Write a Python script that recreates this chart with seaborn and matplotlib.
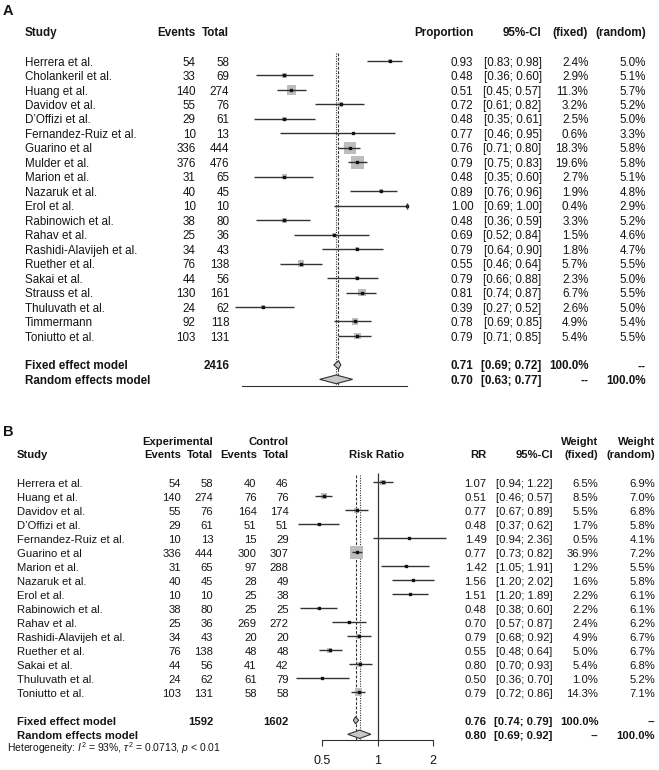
import numpy as np
import pandas as pd
import matplotlib
matplotlib.use("Agg")
import matplotlib.pyplot as plt
from matplotlib.ticker import NullLocator, FixedLocator, FixedFormatter
import seaborn as sns

# ---------------- data: panel A (proportions) ----------------
studies_a = ["Herrera et al.", "Cholankeril et al.", "Huang et al.", "Davidov et al.",
             "D\u2019Offizi et al.", "Fernandez-Ruiz et al.", "Guarino et al", "Mulder et al.",
             "Marion et al.", "Nazaruk et al.", "Erol et al.", "Rabinowich et al.",
             "Rahav et al.", "Rashidi-Alavijeh et al.", "Ruether et al.", "Sakai et al.",
             "Strauss et al.", "Thuluvath et al.", "Timmermann", "Toniutto et al."]
events_a = [54, 33, 140, 55, 29, 10, 336, 376, 31, 40, 10, 38, 25, 34, 76, 44, 130, 24, 92, 103]
total_a = [58, 69, 274, 76, 61, 13, 444, 476, 65, 45, 10, 80, 36, 43, 138, 56, 161, 62, 118, 131]
prop_a = [0.93, 0.48, 0.51, 0.72, 0.48, 0.77, 0.76, 0.79, 0.48, 0.89, 1.00, 0.48, 0.69, 0.79,
          0.55, 0.79, 0.81, 0.39, 0.78, 0.79]
lo_a = [0.83, 0.36, 0.45, 0.61, 0.35, 0.46, 0.71, 0.75, 0.35, 0.76, 0.69, 0.36, 0.52, 0.64,
        0.46, 0.66, 0.74, 0.27, 0.69, 0.71]
hi_a = [0.98, 0.60, 0.57, 0.82, 0.61, 0.95, 0.80, 0.83, 0.60, 0.96, 1.00, 0.59, 0.84, 0.90,
        0.64, 0.88, 0.87, 0.52, 0.85, 0.85]
wfix_a = [2.4, 2.9, 11.3, 3.2, 2.5, 0.6, 18.3, 19.6, 2.7, 1.9, 0.4, 3.3, 1.5, 1.8, 5.7, 2.3,
          6.7, 2.6, 4.9, 5.4]
wran_a = [5.0, 5.1, 5.7, 5.2, 5.0, 3.3, 5.8, 5.8, 5.1, 4.8, 2.9, 5.2, 4.6, 4.7, 5.5, 5.0,
          5.5, 5.0, 5.4, 5.5]
pooled_total_a = 2416
fixed_a = (0.71, 0.69, 0.72)
random_a = (0.70, 0.63, 0.77)

# ---------------- data: panel B (risk ratios) ----------------
studies_b = ["Herrera et al.", "Huang et al.", "Davidov et al.", "D\u2019Offizi et al.",
             "Fernandez-Ruiz et al.", "Guarino et al", "Marion et al.", "Nazaruk et al.",
             "Erol et al.", "Rabinowich et al.", "Rahav et al.", "Rashidi-Alavijeh et al.",
             "Ruether et al.", "Sakai et al.", "Thuluvath et al.", "Toniutto et al."]
exp_events_b = [54, 140, 55, 29, 10, 336, 31, 40, 10, 38, 25, 34, 76, 44, 24, 103]
exp_total_b = [58, 274, 76, 61, 13, 444, 65, 45, 10, 80, 36, 43, 138, 56, 62, 131]
ctl_events_b = [40, 76, 164, 51, 15, 300, 97, 28, 25, 25, 269, 20, 48, 41, 61, 58]
ctl_total_b = [46, 76, 174, 51, 29, 307, 288, 49, 38, 25, 272, 20, 48, 42, 79, 58]
rr_b = [1.07, 0.51, 0.77, 0.48, 1.49, 0.77, 1.42, 1.56, 1.51, 0.48, 0.70, 0.79, 0.55, 0.80,
        0.50, 0.79]
lo_b = [0.94, 0.46, 0.67, 0.37, 0.94, 0.73, 1.05, 1.20, 1.20, 0.38, 0.57, 0.68, 0.48, 0.70,
        0.36, 0.72]
hi_b = [1.22, 0.57, 0.89, 0.62, 2.36, 0.82, 1.91, 2.02, 1.89, 0.60, 0.87, 0.92, 0.64, 0.93,
        0.70, 0.86]
wfix_b = [6.5, 8.5, 5.5, 1.7, 0.5, 36.9, 1.2, 1.6, 2.2, 2.2, 2.4, 4.9, 5.0, 5.4, 1.0, 14.3]
wran_b = [6.9, 7.0, 6.8, 5.8, 4.1, 7.2, 5.5, 5.8, 6.1, 6.1, 6.2, 6.7, 6.7, 6.8, 5.2, 7.1]
pooled_exp_total_b = 1592
pooled_ctl_total_b = 1602
fixed_b = (0.76, 0.74, 0.79)
random_b = (0.80, 0.69, 0.92)
ticks_b = [0.5, 1, 2]
tick_labels_b = ["0.5", "1", "2"]
heterogeneity_b = r"Heterogeneity: $I^2$ = 93%, $\tau^2$ = 0.0713, $p$ < 0.01"

# ---------------- style ----------------
sns.set_theme(style="white")
plt.rcParams["font.family"] = ["Liberation Sans", "DejaVu Sans"]
plt.rcParams["mathtext.fontset"] = "custom"
plt.rcParams["mathtext.rm"] = "Liberation Sans"
plt.rcParams["mathtext.it"] = "Liberation Sans:italic"
plt.rcParams["mathtext.bf"] = "Liberation Sans:bold"

TXT = "#151515"
LN = "#333333"
SQ = "#bdbdbd"
DIA = "#c8c8c8"

W, H = 659, 770
fig = plt.figure(figsize=(W / 100, H / 100), dpi=100)
bg = fig.add_axes([0, 0, 1, 1])
bg.set_xlim(0, W)
bg.set_ylim(H, 0)
bg.axis("off")


def px_axes(x0, x1, y0, y1):
    return fig.add_axes([x0 / W, 1 - y1 / H, (x1 - x0) / W, (y1 - y0) / H])


def txt(x, y, s, ha="left", bold=False, size=8.4):
    bg.text(x, y, s, ha=ha, va="baseline", fontsize=size, color=TXT,
            fontweight="bold" if bold else "normal")


def diamond(ax, est, lo, hi, row, h):
    ax.fill([lo, est, hi, est, lo], [row, row - h, row, row + h, row],
            facecolor=DIA, edgecolor=LN, lw=0.8, zorder=5)


def forest(ax, est, lo, hi, w, smax):
    n = len(est)
    rows = np.arange(n)
    df = pd.DataFrame({"est": est, "row": rows, "w": w})
    sns.scatterplot(data=df, x="est", y="row", size="w", sizes=(0, smax),
                    size_norm=(0, max(w)), marker="s", color=SQ, linewidth=0,
                    legend=False, ax=ax, zorder=2)
    ax.hlines(rows, lo, hi, color=LN, lw=1.0, zorder=3)
    ax.plot(est, rows, "s", ms=2.0, color="#111111", zorder=4)
    ax.set_xlabel("")
    ax.set_ylabel("")
    ax.set_yticks([])
    for s in ["top", "left", "right"]:
        ax.spines[s].set_visible(False)
    ax.spines["bottom"].set_color(LN)
    ax.spines["bottom"].set_linewidth(0.8)
    ax.patch.set_alpha(0)
    return rows


# ================= Panel A =================
FS_A = 8.4
rowA = lambda i: 61 + 14.47 * i
txt(3, 15, "A", bold=True, size=10.5)
hb = 36
txt(25, hb, "Study", bold=True, size=FS_A)
txt(195.7, hb, "Events", ha="right", bold=True, size=FS_A)
txt(229.3, hb, "Total", ha="right", bold=True, size=FS_A)
txt(473.3, hb, "Proportion", ha="right", bold=True, size=FS_A)
txt(541.7, hb, "95%-CI", ha="right", bold=True, size=FS_A)
txt(587.5, hb, "(fixed)", ha="right", bold=True, size=FS_A)
txt(646, hb, "(random)", ha="right", bold=True, size=FS_A)
for i, name in enumerate(studies_a):
    yb = rowA(i) + 4.6
    txt(25, yb, name, size=FS_A)
    txt(195.7, yb, f"{events_a[i]}", ha="right", size=FS_A)
    txt(229.3, yb, f"{total_a[i]}", ha="right", size=FS_A)
    txt(473.3, yb, f"{prop_a[i]:.2f}", ha="right", size=FS_A)
    txt(541.7, yb, f"[{lo_a[i]:.2f}; {hi_a[i]:.2f}]", ha="right", size=FS_A)
    txt(588.3, yb, f"{wfix_a[i]:.1f}%", ha="right", size=FS_A)
    txt(646, yb, f"{wran_a[i]:.1f}%", ha="right", size=FS_A)
yb = rowA(21) + 4.6
txt(25, yb, "Fixed effect model", bold=True, size=FS_A)
txt(229.3, yb, f"{pooled_total_a}", ha="right", bold=True, size=FS_A)
txt(473.3, yb, f"{fixed_a[0]:.2f}", ha="right", bold=True, size=FS_A)
txt(541.7, yb, f"[{fixed_a[1]:.2f}; {fixed_a[2]:.2f}]", ha="right", bold=True, size=FS_A)
txt(588.3, yb, "100.0%", ha="right", bold=True, size=FS_A)
txt(646, yb, "--", ha="right", bold=True, size=FS_A)
yb = rowA(22) + 4.6
txt(25, yb, "Random effects model", bold=True, size=FS_A)
txt(473.3, yb, f"{random_a[0]:.2f}", ha="right", bold=True, size=FS_A)
txt(541.7, yb, f"[{random_a[1]:.2f}; {random_a[2]:.2f}]", ha="right", bold=True, size=FS_A)
txt(588.3, yb, "--", ha="right", bold=True, size=FS_A)
txt(646, yb, "100.0%", ha="right", bold=True, size=FS_A)

# forest axes A (linear)
axA = px_axes(220, 420, 45, 386)
scaleA = 235.2
axA_rows = forest(axA, prop_a, lo_a, hi_a, wfix_a, 80)
ybotA = (386 - 61) / 14.47
ytopA = (45 - 61) / 14.47
ends = [(h, r) for h, r in zip(hi_a, axA_rows) if h >= 1.0]
if ends:
    axA.plot([e[0] for e in ends], [e[1] for e in ends], "|", ms=5, color=LN, mew=1.0, zorder=4)
axA.vlines(fixed_a[0], -0.55, ybotA, colors=LN, linestyles=(0, (2.5, 1.5)), lw=0.8, zorder=1)
axA.vlines(random_a[0], -0.55, ybotA, colors=LN, linestyles=(0, (1, 1.2)), lw=0.8, zorder=1)
diamond(axA, *fixed_a, 21, 0.28)
diamond(axA, *random_a, 22, 0.3)
axA.set_xlim(0.27 - 15 / scaleA, 0.27 + 185 / scaleA)
axA.set_ylim(ybotA, ytopA)
axA.set_xticks([])
axA.spines["bottom"].set_bounds(0.3, 1.0)

# ================= Panel B =================
FS_B = 8.1
rowB = lambda i: 482.3 + 14.0 * i
txt(3, 436, "B", bold=True, size=10.5)
h1, h2 = 445, 458.3
txt(213.3, h1, "Experimental", ha="right", bold=True, size=FS_B)
txt(288.7, h1, "Control", ha="right", bold=True, size=FS_B)
txt(17, h2, "Study", bold=True, size=FS_B)
txt(181, h2, "Events", ha="right", bold=True, size=FS_B)
txt(213.3, h2, "Total", ha="right", bold=True, size=FS_B)
txt(256.7, h2, "Events", ha="right", bold=True, size=FS_B)
txt(288.7, h2, "Total", ha="right", bold=True, size=FS_B)
txt(376.7, h2, "Risk Ratio", ha="center", bold=True, size=FS_B)
txt(486.7, h2, "RR", ha="right", bold=True, size=FS_B)
txt(553.3, h2, "95%-CI", ha="right", bold=True, size=FS_B)
txt(598.3, h1, "Weight", ha="right", bold=True, size=FS_B)
txt(598.3, h2, "(fixed)", ha="right", bold=True, size=FS_B)
txt(655, h1, "Weight", ha="right", bold=True, size=FS_B)
txt(655, h2, "(random)", ha="right", bold=True, size=FS_B)
for i, name in enumerate(studies_b):
    yb = rowB(i) + 4.4
    txt(17, yb, name, size=FS_B)
    txt(181, yb, f"{exp_events_b[i]}", ha="right", size=FS_B)
    txt(213.3, yb, f"{exp_total_b[i]}", ha="right", size=FS_B)
    txt(256.7, yb, f"{ctl_events_b[i]}", ha="right", size=FS_B)
    txt(288.7, yb, f"{ctl_total_b[i]}", ha="right", size=FS_B)
    txt(486.7, yb, f"{rr_b[i]:.2f}", ha="right", size=FS_B)
    txt(552.7, yb, f"[{lo_b[i]:.2f}; {hi_b[i]:.2f}]", ha="right", size=FS_B)
    txt(598.3, yb, f"{wfix_b[i]:.1f}%", ha="right", size=FS_B)
    txt(655, yb, f"{wran_b[i]:.1f}%", ha="right", size=FS_B)
yb = rowB(17) + 4.4
txt(17, yb, "Fixed effect model", bold=True, size=FS_B)
txt(213.3, yb, f"{pooled_exp_total_b}", ha="right", bold=True, size=FS_B)
txt(288.7, yb, f"{pooled_ctl_total_b}", ha="right", bold=True, size=FS_B)
txt(486.7, yb, f"{fixed_b[0]:.2f}", ha="right", bold=True, size=FS_B)
txt(552.7, yb, f"[{fixed_b[1]:.2f}; {fixed_b[2]:.2f}]", ha="right", bold=True, size=FS_B)
txt(598.3, yb, "100.0%", ha="right", bold=True, size=FS_B)
txt(655, yb, "--", ha="right", bold=True, size=FS_B)
yb = rowB(18) + 4.4
txt(17, yb, "Random effects model", bold=True, size=FS_B)
txt(486.7, yb, f"{random_b[0]:.2f}", ha="right", bold=True, size=FS_B)
txt(552.7, yb, f"[{random_b[1]:.2f}; {random_b[2]:.2f}]", ha="right", bold=True, size=FS_B)
txt(598.3, yb, "--", ha="right", bold=True, size=FS_B)
txt(655, yb, "100.0%", ha="right", bold=True, size=FS_B)
txt(7, 751.5, heterogeneity_b, size=7.5)

# forest axes B (log scale)
axB = px_axes(275, 465, 465, 740)
forest(axB, rr_b, lo_b, hi_b, wfix_b, 80)
ybotB = (740 - 482.3) / 14.0
ytopB = (465 - 482.3) / 14.0
axB.vlines(1, -0.64, ybotB, colors=LN, linestyles="solid", lw=0.9, zorder=1)
axB.vlines(fixed_b[0], -0.55, ybotB, colors=LN, linestyles=(0, (2.5, 1.5)), lw=0.8, zorder=1)
axB.vlines(random_b[0], -0.55, ybotB, colors=LN, linestyles=(0, (1, 1.2)), lw=0.8, zorder=1)
diamond(axB, *fixed_b, 17, 0.25)
diamond(axB, *random_b, 18, 0.3)
axB.set_xscale("log")
pxB = 55.5 / np.log(2)
axB.set_xlim(np.exp((275 - 377.5) / pxB), np.exp((465 - 377.5) / pxB))
axB.set_ylim(ybotB, ytopB)
axB.xaxis.set_major_locator(FixedLocator(ticks_b))
axB.xaxis.set_major_formatter(FixedFormatter(tick_labels_b))
axB.xaxis.set_minor_locator(NullLocator())
axB.tick_params(axis="x", bottom=True, direction="out", length=4.5, width=0.8,
                color=LN, labelsize=9, labelcolor=TXT, pad=6)
axB.spines["bottom"].set_bounds(ticks_b[0], ticks_b[-1])

fig.savefig("out.png", dpi=100, facecolor="white")
